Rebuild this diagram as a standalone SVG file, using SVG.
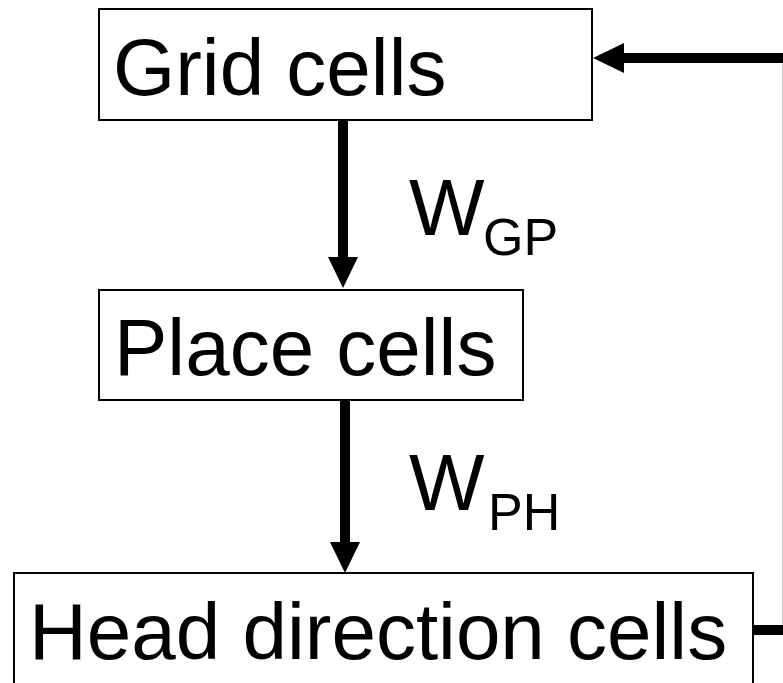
<svg xmlns="http://www.w3.org/2000/svg" width="783" height="683" viewBox="0 0 783 683">
<style>
.box{fill:#fff;stroke:#000;stroke-width:2}
.lbl{font-family:"Liberation Sans",Arial,sans-serif;font-size:80px;fill:#000}
.sub{font-family:"Liberation Sans",Arial,sans-serif;font-size:52px;fill:#000}
.conn{fill:none;stroke:#000;stroke-width:10;stroke-linejoin:miter}
</style>
<defs>
<marker id="ah" markerUnits="userSpaceOnUse" markerWidth="32" markerHeight="32" refX="0" refY="15" orient="auto" viewBox="0 0 32 30" overflow="visible">
<path d="M0,0 L31,15 L0,30 z" fill="#000"/>
</marker>
</defs>
<rect width="783" height="683" fill="#fff"/>
<g id="grid-cells">
<rect class="box" x="99" y="9" width="493" height="111"/>
<text class="lbl" x="113" y="95">Grid cells</text>
</g>
<g id="place-cells">
<rect class="box" x="99" y="290" width="424" height="110"/>
<text class="lbl" x="114" y="375">Place cells</text>
</g>
<g id="head-direction-cells">
<rect class="box" x="14" y="573" width="739" height="112"/>
<text class="lbl" x="29" y="659">Head direction cells</text>
</g>
<g id="connectors">
<path class="conn" d="M343,121 V257" marker-end="url(#ah)"/>
<path class="conn" d="M345,401 V542" marker-end="url(#ah)"/>
<path class="conn" d="M754,630 H787.8 V58 H624" marker-end="url(#ah)"/>
<text class="lbl" x="409" y="235">W</text>
<text class="sub" x="483" y="255">GP</text>
<text class="lbl" x="409" y="510">W</text>
<text class="sub" x="488" y="530">PH</text>
</g>
</svg>
